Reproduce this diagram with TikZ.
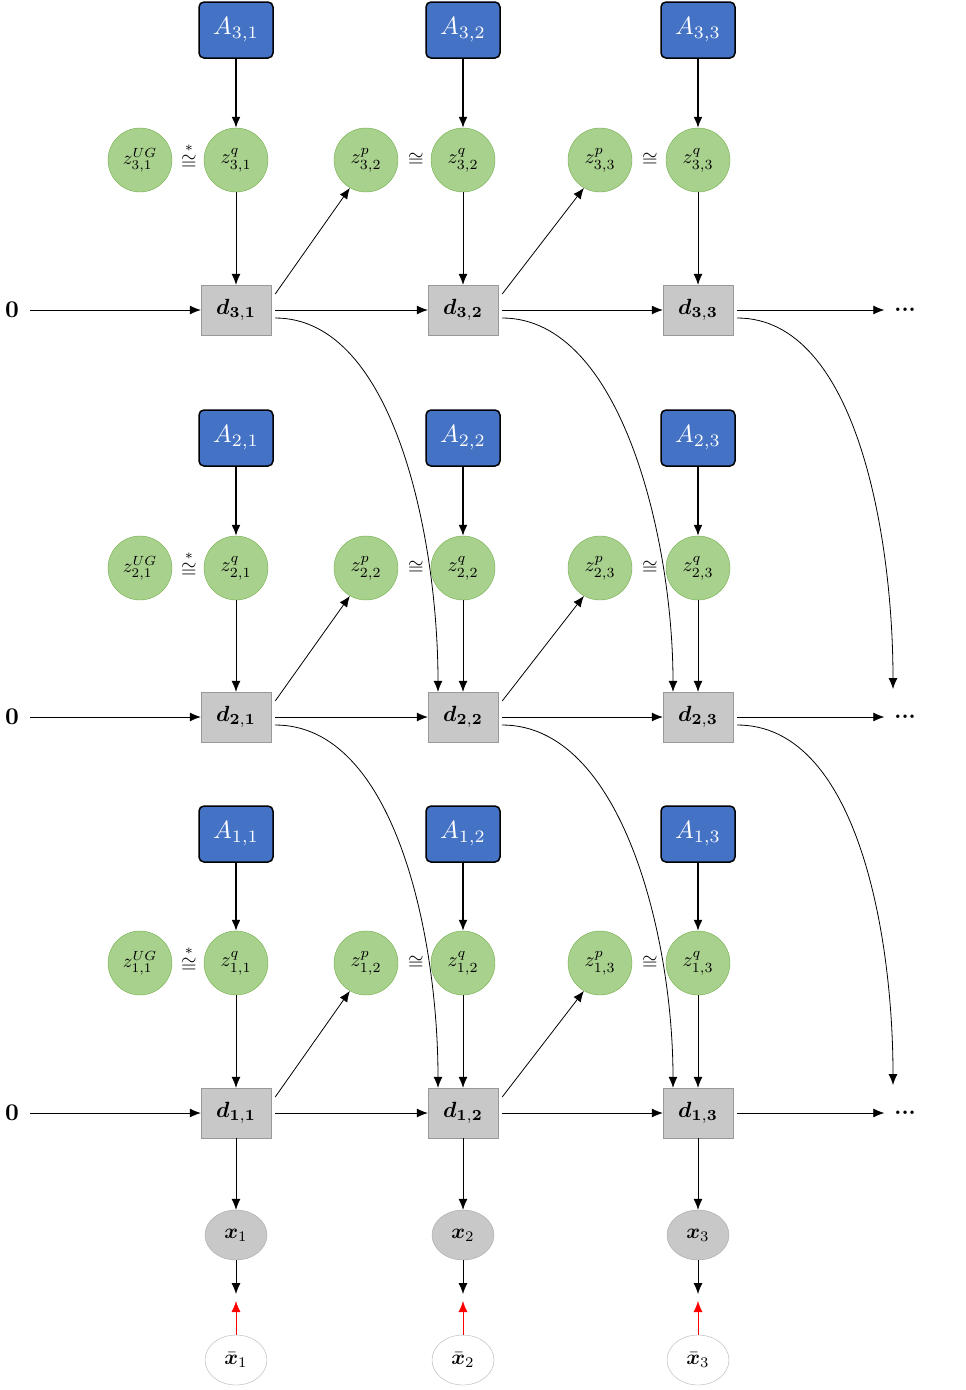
\documentclass[tikz,border=0pt]{standalone}
\usepackage{amsmath}
\usepackage{bm}
\usepackage{graphicx}
\usetikzlibrary{arrows.meta, shapes.geometric, positioning}
\definecolor{ablue}{RGB}{68,114,196}
\definecolor{zgreen}{RGB}{169,209,142}
\definecolor{zedge}{RGB}{112,173,71}
\definecolor{dgray}{RGB}{200,200,200}
\newcommand{\sz}[2]{\scalebox{#1}{#2}}

\begin{document}
\begin{tikzpicture}[
    x=1pt, y=-1pt,
    abox/.style={rectangle, draw=black, fill=ablue, line width=1.5pt, rounded corners=5pt, minimum width=74pt, minimum height=56pt, inner sep=0pt, text=white},
    zcirc/.style={circle, draw=zedge, fill=zgreen, minimum size=64pt, inner sep=0pt},
    dbox/.style={rectangle, draw=gray!80, fill=dgray, minimum width=70pt, minimum height=50pt, inner sep=0pt},
    xnode/.style={ellipse, draw=gray!70, fill=dgray, minimum width=62pt, minimum height=50pt, inner sep=0pt},
    xbar/.style={ellipse, draw=gray!60, fill=white, minimum width=62pt, minimum height=50pt, inner sep=0pt},
    eqsign/.style={inner sep=0pt},
    plain/.style={inner sep=0pt, font=\bfseries},
    arrow/.style={-{Latex[length=11pt,width=9pt]}, line width=0.8pt},
    thickarrow/.style={-{Latex[length=11pt,width=9pt]}, line width=1.6pt},
    redarrow/.style={-{Latex[length=11pt,width=9pt]}, line width=0.8pt, red}
]
    \useasboundingbox (0,0) rectangle (966,1390);

    % Layers: A boxes, z nodes, d boxes
    \foreach \r/\ya/\yz/\yd in {3/30/160/310, 2/438/568/717, 1/834/963/1113} {
        \foreach \c/\x in {1/236, 2/463, 3/698} {
            \node[abox] (A\r\c) at (\x,\ya) {\sz{2.5}{$A_{\r,\c}$}};
            \node[zcirc] (zq\r\c) at (\x,\yz) {\sz{2}{$z^{q}_{\r,\c}$}};
            \node[dbox] (d\r\c) at (\x,\yd) {\sz{2.2}{$\bm{d}_{\mathbf{\r,\c}}$}};
            \draw[thickarrow] (A\r\c) -- (zq\r\c);
            \draw[arrow] (zq\r\c) -- (d\r\c);
        }
        \node[zcirc] (zug\r) at (140,\yz) {\sz{1.9}{$z^{UG}_{\r,1}$}};
        \node[eqsign] (eq\r1) at (189,\yz-4) {\sz{2}{$\overset{*}{\cong}$}};
        \node[zcirc] (zp\r2) at (366,\yz) {\sz{2}{$z^{p}_{\r,2}$}};
        \node[eqsign] (eq\r2) at (416,\yz) {\sz{2}{$\cong$}};
        \node[zcirc] (zp\r3) at (600,\yz) {\sz{2}{$z^{p}_{\r,3}$}};
        \node[eqsign] (eq\r3) at (650,\yz) {\sz{2}{$\cong$}};
        \node[plain] (zero\r) at (12,\yd) {\sz{2.4}{0}};
        \node[plain] (dots\r) at (905,\yd) {\sz{2.2}{...}};
        \coordinate (end\r) at (893,\yd-28);
        % Chain of d boxes
        \draw[arrow] (zero\r) ++(18,0) -- (d\r1);
        \draw[arrow] ([xshift=4pt]d\r1.east) -- (d\r2);
        \draw[arrow] ([xshift=4pt]d\r2.east) -- (d\r3);
        \draw[arrow] ([xshift=4pt]d\r3.east) -- ([xshift=-10pt]dots\r.west);
        % d to next prior
        \draw[arrow] ([xshift=4pt,yshift=16pt]d\r1.east) -- (zp\r2.240);
        \draw[arrow] ([xshift=4pt,yshift=16pt]d\r2.east) -- (zp\r3.240);
    }

    % Curves to the layer below
    \foreach \r/\s in {3/2, 2/1} {
        \draw[arrow] ([xshift=4pt,yshift=-8pt]d\r1.east) .. controls +(120,0) and +(0,-150) .. ([xshift=-25pt]d\s2.north);
        \draw[arrow] ([xshift=4pt,yshift=-8pt]d\r2.east) .. controls +(120,0) and +(0,-150) .. ([xshift=-25pt]d\s3.north);
        \draw[arrow] ([xshift=4pt,yshift=-8pt]d\r3.east) .. controls +(120,0) and +(0,-150) .. (end\s);
    }

    % Observations
    \foreach \c/\x in {1/236, 2/463, 3/698} {
        \node[xnode] (x\c) at (\x,1235) {\sz{2.1}{$\bm{x}_{\c}$}};
        \node[xbar] (xb\c) at (\x,1360) {\sz{2.1}{$\bar{\bm{x}}_{\c}$}};
        \coordinate (top\c) at (\x,1294);
        \coordinate (bot\c) at (\x,1301);
        \draw[arrow] (d1\c) -- (x\c);
        \draw[arrow] (x\c) -- (top\c);
        \draw[redarrow] (xb\c) -- (bot\c);
    }
\end{tikzpicture}
\end{document}
